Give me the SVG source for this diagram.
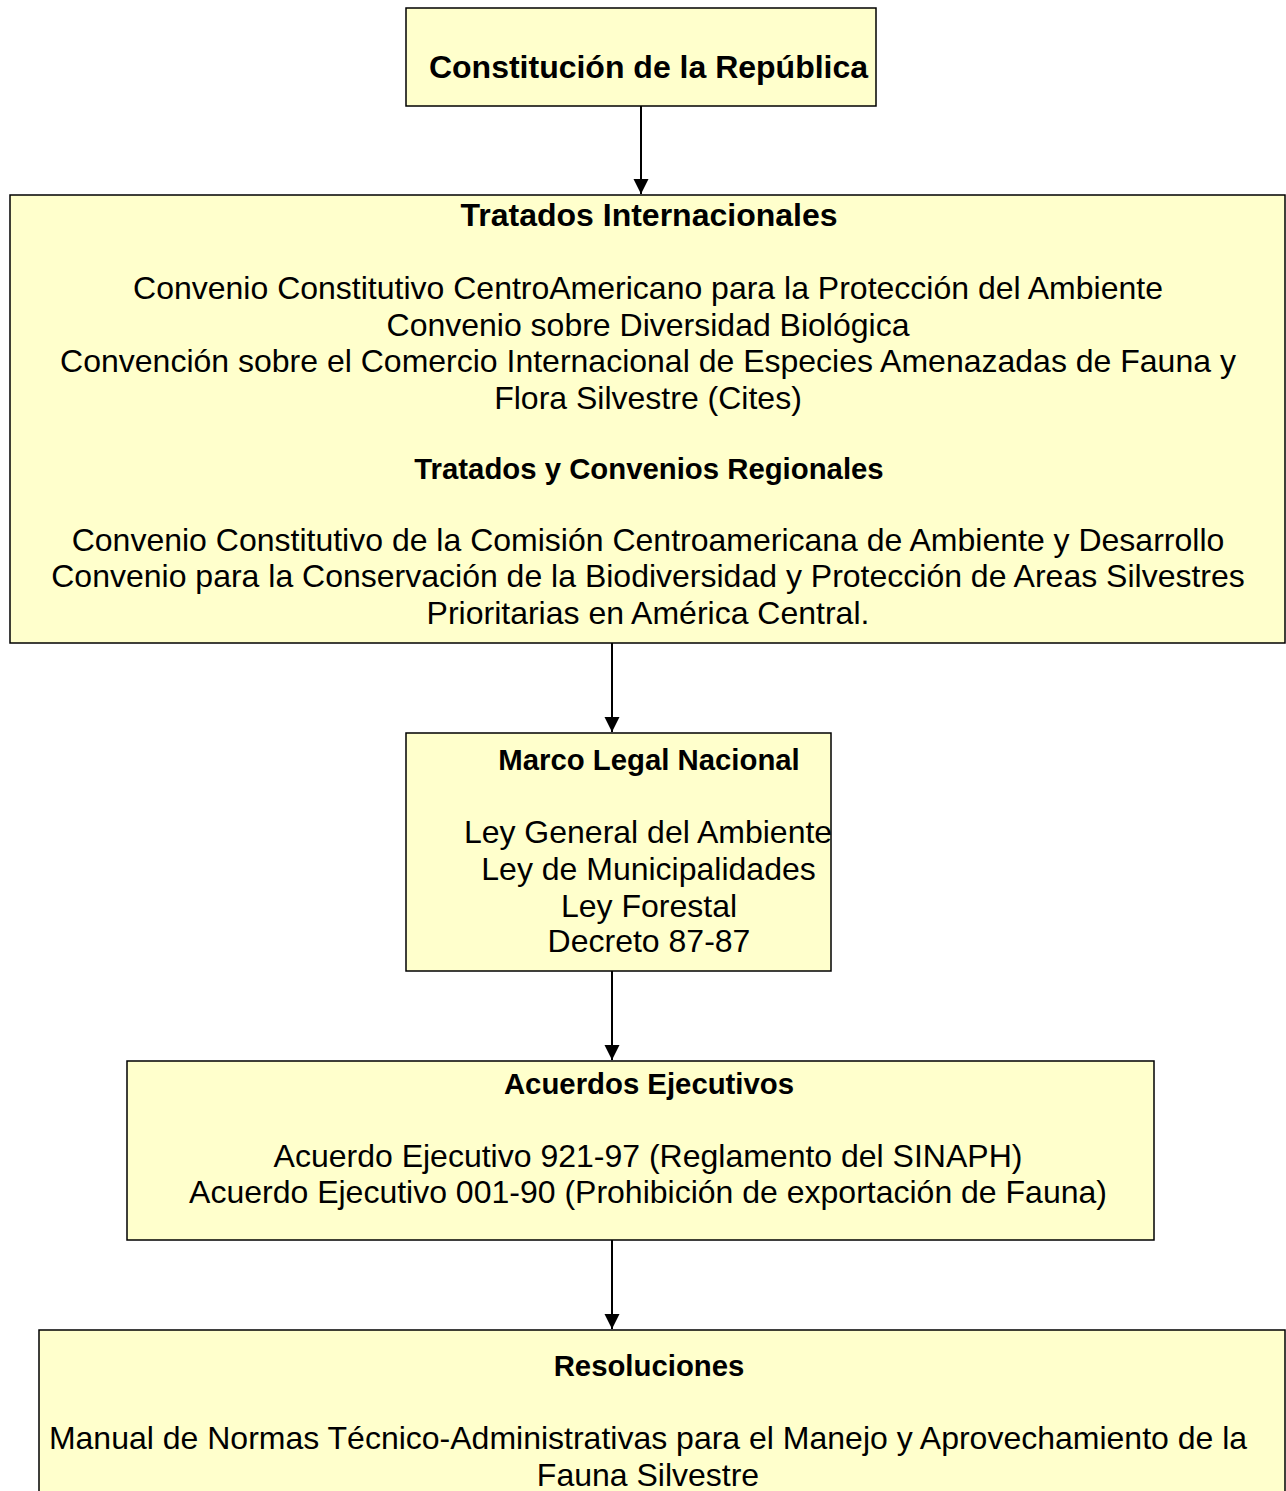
<svg xmlns="http://www.w3.org/2000/svg" width="1286" height="1491" viewBox="0 0 1286 1491">
<defs>
<style>
.box{fill:#FFFFCC;stroke:#000;stroke-width:1.5}
text{font-family:"Liberation Sans",Arial,sans-serif;fill:#000;text-anchor:middle}
.r{font-size:32px}
.b{font-size:29.33px;font-weight:bold}
.bl{font-size:32px;font-weight:bold}
.conn{stroke:#000;stroke-width:2;fill:none}
</style>
<marker id="ah" markerUnits="userSpaceOnUse" markerWidth="16" markerHeight="16" refX="15" refY="7.5" orient="auto">
<path d="M0,0 L15,7.5 L0,15 Z" fill="#000"/>
</marker>
</defs>
<rect width="1286" height="1491" fill="#fff"/>
<g id="connectors">
<line class="conn" x1="641" y1="106" x2="641" y2="194" marker-end="url(#ah)"/>
<line class="conn" x1="612" y1="643" x2="612" y2="732" marker-end="url(#ah)"/>
<line class="conn" x1="612" y1="971" x2="612" y2="1060" marker-end="url(#ah)"/>
<line class="conn" x1="612" y1="1240" x2="612" y2="1329" marker-end="url(#ah)"/>
</g>
<g id="constitucion">
<rect class="box" x="406" y="8" width="470" height="98"/>
<text class="bl" x="648.5" y="78">Constitución de la República</text>
</g>
<g id="tratados">
<rect class="box" x="10" y="195" width="1275" height="448"/>
<text class="bl" x="649" y="225.5">Tratados Internacionales</text>
<text class="r" x="648" y="299">Convenio Constitutivo CentroAmericano para la Protección del Ambiente</text>
<text class="r" x="648" y="335.7">Convenio sobre Diversidad Biológica</text>
<text class="r" x="648" y="372.4">Convención sobre el Comercio Internacional de Especies Amenazadas de Fauna y</text>
<text class="r" x="648" y="409.1">Flora Silvestre (Cites)</text>
<text class="b" x="649" y="478.5">Tratados y Convenios Regionales</text>
<text class="r" x="648" y="550.7">Convenio Constitutivo de la Comisión Centroamericana de Ambiente y Desarrollo</text>
<text class="r" x="648" y="587.4">Convenio para la Conservación de la Biodiversidad y Protección de Areas Silvestres</text>
<text class="r" x="648" y="624.1">Prioritarias en América Central.</text>
</g>
<g id="marco">
<rect class="box" x="406" y="733" width="425" height="238"/>
<text class="b" x="649" y="770">Marco Legal Nacional</text>
<text class="r" x="648" y="843.3">Ley General del Ambiente</text>
<text class="r" x="648.5" y="880">Ley de Municipalidades</text>
<text class="r" x="649" y="916.7">Ley Forestal</text>
<text class="r" x="649" y="951.7">Decreto 87-87</text>
</g>
<g id="acuerdos">
<rect class="box" x="127" y="1061" width="1027" height="179"/>
<text class="b" x="649" y="1093.5">Acuerdos Ejecutivos</text>
<text class="r" x="648" y="1166.7">Acuerdo Ejecutivo 921-97 (Reglamento del SINAPH)</text>
<text class="r" x="648" y="1203.4">Acuerdo Ejecutivo 001-90 (Prohibición de exportación de Fauna)</text>
</g>
<g id="resoluciones">
<rect class="box" x="39" y="1330" width="1246" height="200"/>
<text class="b" x="649" y="1376">Resoluciones</text>
<text class="r" x="648" y="1449.3">Manual de Normas Técnico-Administrativas para el Manejo y Aprovechamiento de la</text>
<text class="r" x="648" y="1486">Fauna Silvestre</text>
</g>
</svg>
